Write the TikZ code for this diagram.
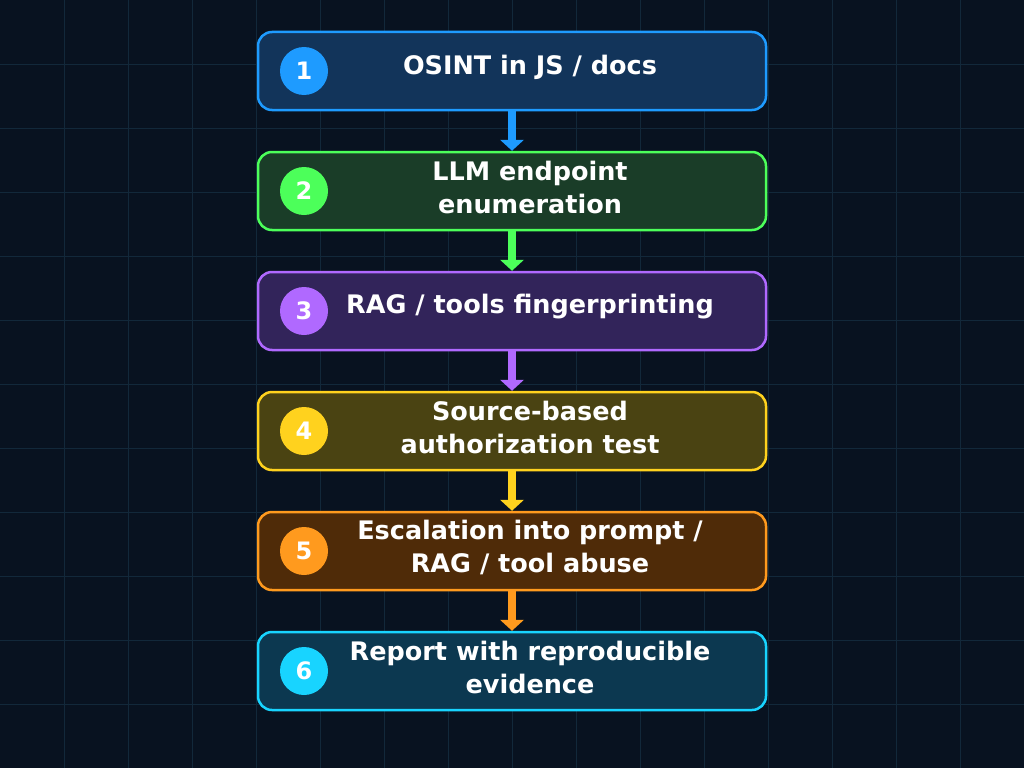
\documentclass[tikz,border=0pt]{standalone}
\usepackage{fontspec}
\setmainfont{DejaVu Sans}
\begin{document}
\begin{tikzpicture}[x=1pt,y=-1pt,
 box/.style={draw=#1,line width=2.5pt,rounded corners=14pt,minimum width=508pt,minimum height=78pt},
 num/.style={circle,fill=#1,minimum size=48pt,inner sep=0pt,text=white,font=\bfseries\fontsize{24}{28}\selectfont},
 lbl/.style={text=white,align=center,font=\bfseries\fontsize{25.5}{33}\selectfont},
 arr/.style={draw=#1,line width=8pt},
 head/.style={fill=#1}]
\definecolor{bg}{HTML}{081220}\definecolor{gr}{HTML}{12283A}
\fill[bg] (0,0) rectangle (1024,768);
\useasboundingbox (0,0) rectangle (1024,768);
\foreach \i in {64,128,...,960} \draw[gr,line width=1pt] (\i,0) -- (\i,768);
\foreach \i in {64,128,...,704} \draw[gr,line width=1pt] (0,\i) -- (1024,\i);
\definecolor{b1}{HTML}{1E9BFF}\definecolor{f1}{HTML}{12345A}
\definecolor{b2}{HTML}{4CFF5A}\definecolor{f2}{HTML}{1A3D28}
\definecolor{b3}{HTML}{B069FF}\definecolor{f3}{HTML}{32245A}
\definecolor{b4}{HTML}{FFD21E}\definecolor{f4}{HTML}{4A4312}
\definecolor{b5}{HTML}{FF9A1E}\definecolor{f5}{HTML}{4F2B08}
\definecolor{b6}{HTML}{18D4FF}\definecolor{f6}{HTML}{0C3850}
\foreach \k/\t in {1/{OSINT in JS / docs},2/{LLM endpoint\\enumeration},3/{RAG / tools fingerprinting},4/{Source-based\\authorization test},5/{Escalation into prompt /\\RAG / tool abuse},6/{Report with reproducible\\evidence}}{
 \pgfmathsetmacro\yy{71+120*(\k-1)}
 \node[box=b\k,fill=f\k] (s\k) at (512,\yy) {};
 \node[num=b\k] (n\k) at (304,\yy) {\k};
 \node[lbl] (t\k) at (530,\yy-4) {\t};
}
\foreach \a/\b in {1/2,2/3,3/4,4/5,5/6}{
 \draw[arr=b\a] (s\a.south) -- ([yshift=10pt]s\b.north);
 \fill[b\a] ([xshift=-12pt,yshift=11pt]s\b.north) -- ([xshift=12pt,yshift=11pt]s\b.north) -- (s\b.north) -- cycle;
}
\end{tikzpicture}
\end{document}
